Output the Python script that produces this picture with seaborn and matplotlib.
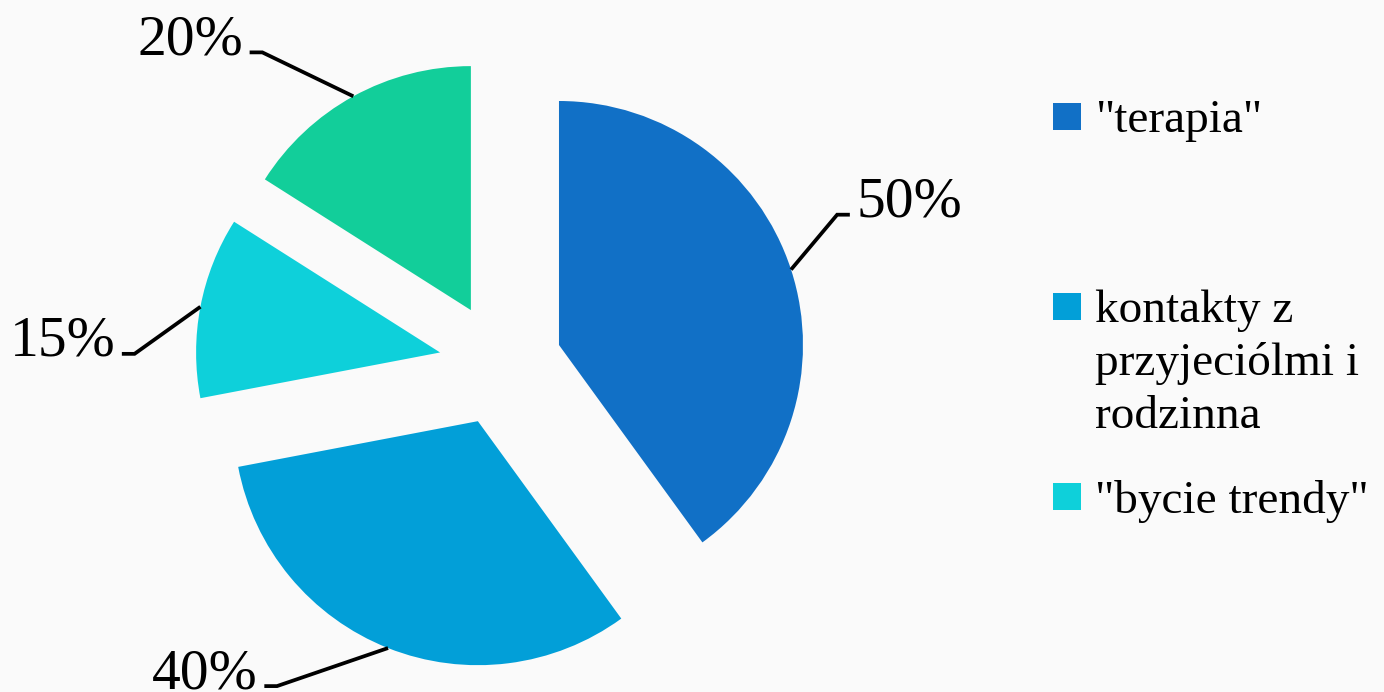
import numpy as np
import matplotlib
matplotlib.use('Agg')
import matplotlib.pyplot as plt
import seaborn as sns
from matplotlib.patches import Rectangle

# ---- data ----
categories = ['"terapia"', 'kontakty z\nprzyjeciólmi i\nrodzinna', '"bycie trendy"', 'inne']
values = [50, 40, 15, 20]
pct_labels = [f"{v}%" for v in values]
colors = ['#1170C6', '#029FD8', '#0ED0DA', '#12CE9A']
legend_count = 3  # only first three entries are visible in the legend

sns.set_theme(style='white')
plt.rcParams['font.family'] = ['Liberation Serif', 'DejaVu Serif']

W, H = 1384, 692
R = 244.0
CX, CY = 500.5, 364.0
bg = '#fafafa'

fig = plt.figure(figsize=(W / 100, H / 100), dpi=100)
fig.patch.set_facecolor(bg)
ax = fig.add_axes([0, 0, 1, 1])
ax.set_facecolor(bg)
wedges, _ = ax.pie(values, colors=colors, startangle=90, counterclock=False,
                   explode=[0.252] * len(values), radius=1.0, center=(0, 0),
                   wedgeprops=dict(linewidth=0))
ax.set_xlim(-CX / R, (W - CX) / R)
ax.set_ylim(-(H - CY) / R, CY / R)
ax.set_aspect('equal')
ax.axis('off')

# leader line elbows (layout offsets, in radius units)
elbow = [(0.189, 0.225), (-0.455, -0.156), (-0.270, -0.193), (-0.373, 0.180)]
for w, lab, (ex, ey) in zip(wedges, pct_labels, elbow):
    mid = np.deg2rad((w.theta1 + w.theta2) / 2)
    cx, cy = w.center
    sx, sy = cx + w.r * np.cos(mid), cy + w.r * np.sin(mid)
    bx, by = sx + ex, sy + ey
    sgn = 1 if ex > 0 else -1
    tx = bx + sgn * 0.052
    ax.plot([sx, bx, tx], [sy, by, by], color='black', lw=2.7,
            solid_capstyle='butt', solid_joinstyle='miter')
    ax.text(tx + sgn * 0.027, by - 0.008, lab, ha='left' if sgn > 0 else 'right',
            va='baseline', fontsize=41.5, color='black')

# legend (manual, to match marker alignment with first text line)
leg_marker_top = [103, 293, 483]
leg_text_top = [100, 290, 480]
for i in range(legend_count):
    fig.add_artist(Rectangle((1053 / W, 1 - (leg_marker_top[i] + 27) / H), 28 / W, 27 / H,
                             transform=fig.transFigure, facecolor=colors[i], edgecolor='none'))
    fig.text(1095 / W, 1 - leg_text_top[i] / H, categories[i], ha='left', va='top',
             fontsize=34, color='black', linespacing=1.30)

fig.savefig('out.png', dpi=100, facecolor=bg)
